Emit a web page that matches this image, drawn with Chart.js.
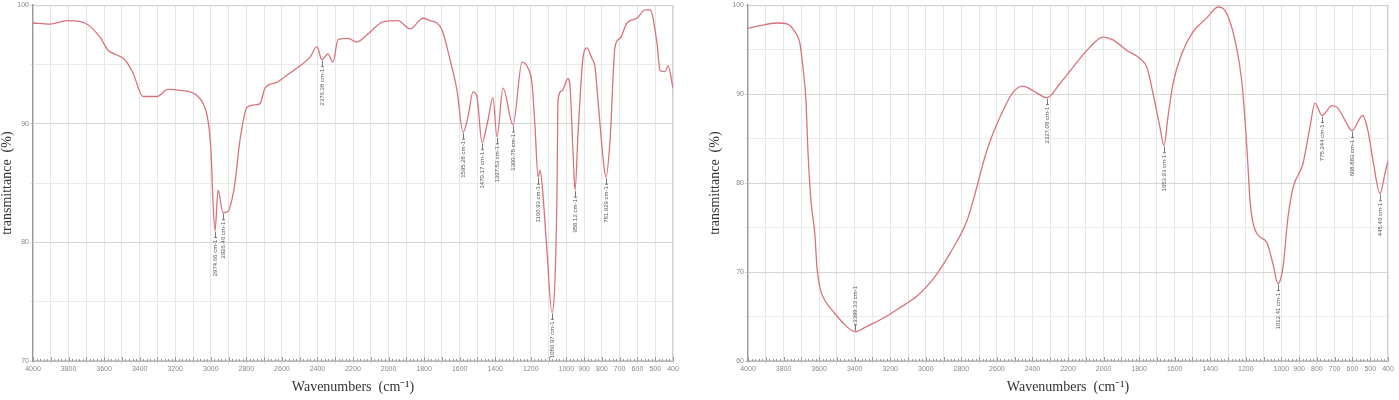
<!DOCTYPE html>
<html>
<head>
<meta charset="utf-8">
<script src="https://cdn.jsdelivr.net/npm/chart.js@4.4.1/dist/chart.umd.min.js"></script>
<style>
  body { margin: 0; background: #fff; }
  .box { position: absolute; top: 0; }
</style>
</head>
<body>
<div class="box" style="left:0"><canvas id="ftir-left" width="690" height="400"></canvas></div>
<div class="box" style="left:700px"><canvas id="ftir-right" width="699" height="400"></canvas></div>
<script>
// spectrum 1 (left)
const leftWn = [4000, 3904, 3809, 3708, 3623, 3578, 3528, 3483, 3438, 3381,
  3303, 3241, 3162, 3100, 3043, 3016, 2999, 2988, 2976, 2959,
  2931, 2903, 2881, 2864, 2836, 2796, 2751, 2723, 2695, 2628,
  2571, 2498, 2442, 2403, 2375, 2341, 2313, 2284, 2228, 2178,
  2121, 2031, 1947, 1879, 1806, 1767, 1728, 1699, 1654, 1615,
  1581, 1553, 1525, 1503, 1474, 1441, 1413, 1390, 1356, 1300,
  1249, 1216, 1193, 1176, 1159, 1148, 1137, 1110, 1081, 1053,
  1047, 1024, 991, 979, 963, 951, 934, 906, 884, 856,
  839, 822, 794, 777, 754, 726, 698, 659, 603, 557,
  529, 490, 473, 445, 428, 400];
const leftT = [98.5, 98.4, 98.7, 98.5, 97.3, 96.2, 95.8, 95.4, 94.3, 92.3,
  92.3, 92.9, 92.8, 92.6, 91.7, 90.3, 87.8, 83.6, 81.0, 84.4,
  82.5, 82.6, 83.6, 85.0, 88.6, 91.4, 91.6, 91.7, 93.0, 93.5,
  94.1, 94.9, 95.6, 96.5, 95.4, 95.9, 95.2, 97.1, 97.2, 96.9,
  97.5, 98.6, 98.7, 98.0, 98.9, 98.7, 98.5, 97.9, 95.4, 92.8,
  89.3, 90.6, 92.7, 92.3, 88.4, 90.3, 92.2, 88.9, 93.0, 89.9,
  95.2, 94.7, 93.4, 89.7, 85.5, 86.1, 85.0, 79.5, 74.1, 83.6,
  92.0, 92.8, 93.8, 93.1, 87.8, 84.4, 89.2, 95.6, 96.4, 95.5,
  94.8, 92.0, 87.2, 85.5, 88.6, 96.5, 97.2, 98.5, 98.9, 99.6,
  99.6, 96.8, 94.5, 94.4, 94.9, 93.0];
const leftPeakWn = [2976, 2931, 2375, 1581, 1474, 1390, 1300, 1159, 1081, 951, 777];
const leftPeakT = [81.0, 82.5, 95.4, 89.3, 88.4, 88.9, 89.9, 85.5, 74.1, 84.4, 85.5];
const leftPeakLabels = ['2974.66 cm-1', '2926.46 cm-1', '2376.38 cm-1', '1595.28 cm-1',
  '1470.17 cm-1', '1397.53 cm-1', '1300.75 cm-1', '1160.93 cm-1', '1080.97 cm-1',
  '958.12 cm-1', '781.929 cm-1'];

// spectrum 2 (right)
const rightWn = [4000, 3933, 3837, 3781, 3736, 3708, 3691, 3674, 3663, 3646,
  3624, 3612, 3595, 3567, 3522, 3466, 3398, 3331, 3241, 3145,
  3049, 2959, 2864, 2768, 2734, 2656, 2583, 2509, 2453, 2397,
  2318, 2245, 2149, 2076, 2003, 1947, 1868, 1795, 1756, 1722,
  1683, 1660, 1638, 1609, 1559, 1497, 1418, 1356, 1317, 1261,
  1221, 1193, 1176, 1165, 1137, 1081, 1047, 1019, 991, 963,
  934, 878, 839, 811, 771, 715, 681, 632, 603, 542,
  513, 484, 445, 417, 400];
const rightT = [97.4, 97.7, 98.0, 97.9, 97.0, 95.7, 93.0, 89.3, 83.7, 78.0,
  74.3, 70.5, 68.2, 66.8, 65.6, 64.3, 63.3, 63.9, 64.8, 66.0,
  67.3, 69.2, 72.1, 75.8, 78.0, 83.7, 87.4, 90.2, 90.9, 90.4,
  89.6, 91.2, 93.6, 95.3, 96.4, 96.1, 94.9, 94.0, 93.0, 90.1,
  86.3, 84.2, 87.4, 91.2, 94.6, 97.0, 98.6, 99.8, 99.4, 96.1,
  91.2, 83.7, 78.0, 76.1, 74.3, 73.3, 70.9, 68.7, 70.5, 76.1,
  79.5, 82.2, 86.3, 89.0, 87.6, 88.7, 88.4, 86.7, 85.9, 87.6,
  85.9, 82.5, 78.8, 81.1, 82.5];
const rightPeakWn = [3398, 2318, 1660, 1019, 771, 603, 445];
const rightPeakT = [63.3, 89.6, 84.2, 68.7, 87.6, 85.9, 78.8];
const rightPeakLabels = ['3399.33 cm-1', '2327.08 cm-1', '1653.93 cm-1', '1012.41 cm-1',
  '775.244 cm-1', '608.883 cm-1', '445.46 cm-1'];
const rightPeakAbove = [true, false, false, false, false, false, false];

// x ticks: every 200 down to 1000, then every 100
const xTickValues = [];
for (let v = 4000; v >= 400; v -= 100) xTickValues.push(v);

// frame, bottom ruler and peak markers
const ftirDeco = {
    id: 'ftirDeco',
    beforeDatasetsDraw(chart) {
        const { ctx, chartArea: a, scales } = chart;
        ctx.save();
        ctx.strokeStyle = '#d0d0d0';
        ctx.lineWidth = 1;
        ctx.strokeRect(a.left + 0.5, a.top + 0.5, a.width - 1, a.height - 1);
        ctx.strokeStyle = '#9a9a9a';
        ctx.beginPath();
        for (let v = 4000; v >= 400; v -= 20) {
            const x = Math.round(scales.x.getPixelForValue(v)) + 0.5;
            const len = v % 100 === 0 ? 4 : 2;
            ctx.moveTo(x, a.bottom);
            ctx.lineTo(x, a.bottom - len);
        }
        ctx.stroke();
        ctx.restore();
    },
    afterDatasetsDraw(chart, args, opts) {
        const { ctx, scales } = chart;
        if (!opts.wn) return;
        ctx.save();
        ctx.font = '6px "Liberation Sans"';
        ctx.fillStyle = '#555';
        ctx.strokeStyle = '#777';
        ctx.lineWidth = 1;
        opts.wn.forEach((w, i) => {
            const px = Math.round(scales.x.getPixelForValue(w)) + 0.5;
            const py = scales.y.getPixelForValue(opts.t[i]);
            const up = opts.above && opts.above[i];
            const dir = up ? -1 : 1;
            ctx.beginPath();
            ctx.moveTo(px, py + dir * 1);
            ctx.lineTo(px, py + dir * 7);
            ctx.moveTo(px - 1.5, py + dir * 7);
            ctx.lineTo(px + 1.5, py + dir * 7);
            ctx.stroke();
            ctx.save();
            ctx.translate(px, py + dir * 9);
            ctx.rotate(-Math.PI / 2);
            ctx.textAlign = up ? 'left' : 'right';
            ctx.textBaseline = 'middle';
            ctx.fillText(opts.labels[i], 0, 0);
            ctx.restore();
        });
        ctx.restore();
    }
};

function makeSpectrum(id, wn, t, yMin, pad, yWidth, peaks) {
    const ctx = document.getElementById(id);
    return new Chart(ctx, {
        type: 'line',
        data: {
            datasets: [{
                data: wn.map((w, i) => ({ x: w, y: t[i] })),
                borderColor: '#d8737c',
                borderWidth: 1.3,
                pointRadius: 0,
                cubicInterpolationMode: 'monotone',
                fill: false
            }]
        },
        options: {
            responsive: false,
            animation: false,
            devicePixelRatio: 1,
            layout: { padding: pad },
            plugins: {
                legend: { display: false },
                tooltip: { enabled: false },
                ftirDeco: peaks
            },
            scales: {
                x: {
                    type: 'linear',
                    reverse: true,
                    min: 400,
                    max: 4000,
                    afterBuildTicks: s => { s.ticks = xTickValues.map(v => ({ value: v })); },
                    afterFit: s => { s.height = 39; },
                    border: { color: '#9a9a9a', width: 1.5 },
                    grid: { color: '#e6e6e6', lineWidth: 1, tickLength: 3 },
                    ticks: {
                        autoSkip: false,
                        maxRotation: 0,
                        padding: 1,
                        color: '#888',
                        font: { family: 'Liberation Sans', size: 7 },
                        callback: v => (v > 1000 && v % 200 !== 0) ? '' : String(v)
                    },
                    title: {
                        display: true,
                        text: 'Wavenumbers  (cm\u207B\u00B9)',
                        color: '#333',
                        font: { family: 'Liberation Serif', size: 14 },
                        padding: { top: 0, bottom: 4 }
                    }
                },
                y: {
                    min: yMin,
                    max: 100,
                    afterFit: s => { s.width = yWidth; },
                    border: { color: '#9a9a9a', width: 1.5 },
                    grid: {
                        color: c => c.tick.value % 10 === 0 ? '#d6d6d6' : '#ebebeb',
                        tickLength: 3
                    },
                    ticks: {
                        stepSize: 5,
                        padding: 1,
                        color: '#888',
                        font: { family: 'Liberation Sans', size: 7 },
                        callback: v => v % 10 === 0 ? String(v) : ''
                    },
                    title: {
                        display: true,
                        text: 'transmittance  (%)',
                        color: '#333',
                        font: { family: 'Liberation Serif', size: 14, lineHeight: 1 },
                        padding: 0
                    }
                }
            }
        },
        plugins: [ftirDeco]
    });
}

makeSpectrum('ftir-left', leftWn, leftT, 70, { left: 0, top: 5, right: 17, bottom: 0 }, 33,
    { wn: leftPeakWn, t: leftPeakT, labels: leftPeakLabels });
makeSpectrum('ftir-right', rightWn, rightT, 60, { left: 8, top: 5, right: 11, bottom: 0 }, 40,
    { wn: rightPeakWn, t: rightPeakT, labels: rightPeakLabels, above: rightPeakAbove });
</script>
</body>
</html>
